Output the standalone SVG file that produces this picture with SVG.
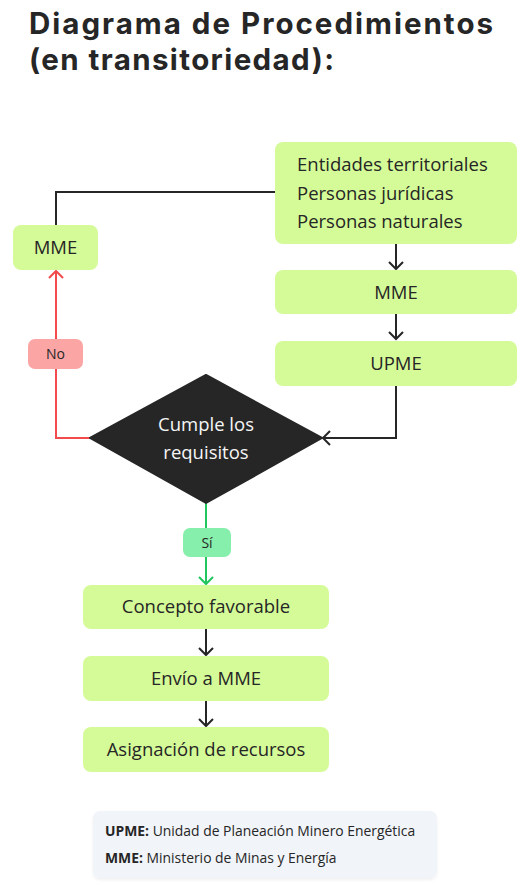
<svg xmlns="http://www.w3.org/2000/svg" width="529" height="886" viewBox="0 0 529 886">
<style>
text{font-family:"Open Sans","Noto Sans","Liberation Sans",sans-serif;fill:#262626}
.box{fill:#d5fb98}
.t{font-size:18.5px}
.title{font-family:Inter,"Open Sans",sans-serif;font-size:29.5px;font-weight:700}
.c{stroke:#262626;stroke-width:2;fill:none}
.r{stroke:#f24b4b;stroke-width:2;fill:none}
.g{stroke:#22c55e;stroke-width:2;fill:none}
.lg{font-size:13.9px}
</style>
<defs>
<marker id="ak" markerWidth="20" markerHeight="20" viewBox="-10 -10 20 20" refX="0" refY="0" orient="auto" markerUnits="userSpaceOnUse">
<path d="M-7,-7 L0,0 L-7,7" fill="none" stroke="#262626" stroke-width="2"/>
</marker>
<marker id="ar" markerWidth="20" markerHeight="20" viewBox="-10 -10 20 20" refX="0" refY="0" orient="auto" markerUnits="userSpaceOnUse">
<path d="M-7,-7 L0,0 L-7,7" fill="none" stroke="#f24b4b" stroke-width="2"/>
</marker>
<marker id="ag" markerWidth="20" markerHeight="20" viewBox="-10 -10 20 20" refX="0" refY="0" orient="auto" markerUnits="userSpaceOnUse">
<path d="M-7,-7 L0,0 L-7,7" fill="none" stroke="#22c55e" stroke-width="2"/>
</marker>
<filter id="sh" x="-5%" y="-10%" width="110%" height="130%">
<feDropShadow dx="0" dy="2" stdDeviation="1.5" flood-color="#000" flood-opacity="0.06"/>
</filter>
</defs>

<g id="title">
<text class="title" x="29" y="34" textLength="464" lengthAdjust="spacing">Diagrama de Procedimientos</text>
<text class="title" x="29" y="70" textLength="305" lengthAdjust="spacing">(en transitoriedad):</text>
</g>

<g id="connectors">
<polyline class="c" points="275,192 56,192 56,226"/>
<line class="c" x1="396" y1="244" x2="396" y2="269" marker-end="url(#ak)"/>
<line class="c" x1="396" y1="314" x2="396" y2="339" marker-end="url(#ak)"/>
<polyline class="c" points="396,386 396,438 323,438" marker-end="url(#ak)"/>
<polyline class="r" points="90,438 56,438 56,271" marker-end="url(#ar)"/>
<line class="g" x1="206" y1="503" x2="206" y2="584" marker-end="url(#ag)"/>
<line class="c" x1="206" y1="629" x2="206" y2="655" marker-end="url(#ak)"/>
<line class="c" x1="206" y1="701" x2="206" y2="726" marker-end="url(#ak)"/>
</g>

<g id="lbl-no">
<rect x="28" y="339" width="55" height="30" rx="7" fill="#fca5a5"/>
<text x="55.5" y="359" font-size="14" text-anchor="middle">No</text>
</g>
<g id="lbl-si">
<rect x="183" y="528" width="48" height="29" rx="7" fill="#86efac"/>
<text x="207" y="548" font-size="14" text-anchor="middle">Sí</text>
</g>

<g id="n-entidades">
<rect class="box" x="275" y="142" width="242" height="102" rx="8"/>
<text class="t" x="297" y="171">Entidades territoriales</text>
<text class="t" x="297" y="199.5">Personas jurídicas</text>
<text class="t" x="297" y="228">Personas naturales</text>
</g>

<g id="n-mme-left">
<rect class="box" x="13" y="225" width="85" height="45" rx="8"/>
<text class="t" x="55.5" y="254" text-anchor="middle">MME</text>
</g>

<g id="n-mme">
<rect class="box" x="275" y="270" width="242" height="44" rx="8"/>
<text class="t" x="396" y="299" text-anchor="middle">MME</text>
</g>

<g id="n-upme">
<rect class="box" x="275" y="341" width="242" height="45" rx="8"/>
<text class="t" x="396" y="370" text-anchor="middle">UPME</text>
</g>

<g id="n-decision">
<polygon points="206,375 322,438 206,503 90,438" fill="#262626" stroke="#262626" stroke-width="2" stroke-linejoin="round"/>
<text class="t" x="206" y="431" text-anchor="middle" style="fill:#f5f5f5">Cumple los</text>
<text class="t" x="206" y="459" text-anchor="middle" style="fill:#f5f5f5">requisitos</text>
</g>

<g id="n-concepto">
<rect class="box" x="83" y="585" width="246" height="44" rx="8"/>
<text class="t" x="206" y="613" text-anchor="middle">Concepto favorable</text>
</g>

<g id="n-envio">
<rect class="box" x="83" y="656" width="246" height="45" rx="8"/>
<text class="t" x="206" y="685" text-anchor="middle">Envío a MME</text>
</g>

<g id="n-asignacion">
<rect class="box" x="83" y="727" width="246" height="45" rx="8"/>
<text class="t" x="206" y="756" text-anchor="middle">Asignación de recursos</text>
</g>

<g id="legend">
<rect x="93" y="811" width="344" height="67" rx="7" fill="#f1f4f8" filter="url(#sh)"/>
<text class="lg" x="105" y="836"><tspan font-weight="700">UPME:</tspan> Unidad de Planeación Minero Energética</text>
<text class="lg" x="105" y="863"><tspan font-weight="700">MME:</tspan> Ministerio de Minas y Energía</text>
</g>
</svg>
